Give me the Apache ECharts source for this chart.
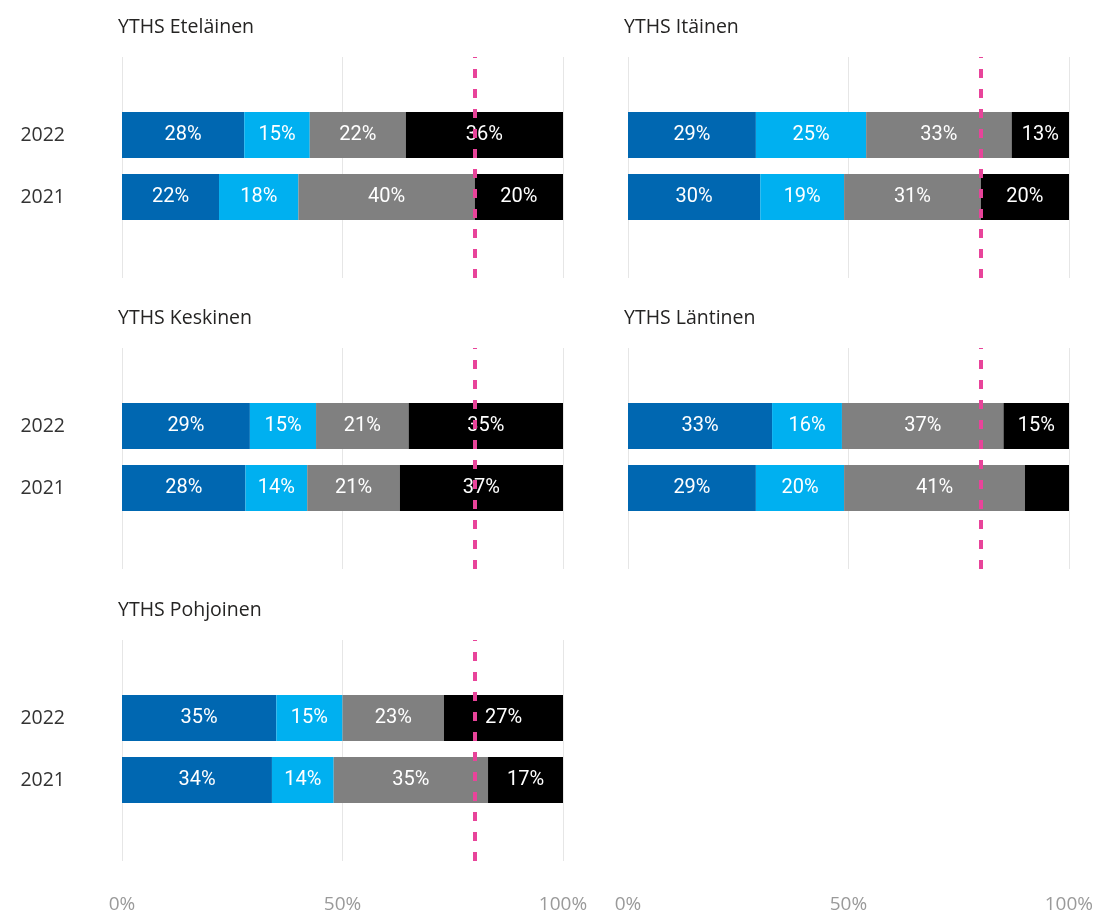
<!DOCTYPE html>
<html>
<head>
<meta charset="utf-8">
<script src="https://cdn.jsdelivr.net/npm/echarts@6/dist/echarts.min.js"></script>
<style>
  html, body { margin: 0; padding: 0; background: #fff; }
  #chart { width: 1096px; height: 915px; }
</style>
</head>
<body>
<div id="chart"></div>
<script>
// categories (bottom to top on the y axis)
const years = ['2021', '2022']
const regions = ['YTHS Eteläinen', 'YTHS Itäinen', 'YTHS Keskinen', 'YTHS Läntinen', 'YTHS Pohjoinen']

// label values per region, [2021, 2022]
const darkBlue = [[22, 28], [30, 29], [28, 29], [29, 33], [34, 35]]
const lightBlue = [[18, 15], [19, 25], [14, 15], [20, 16], [14, 15]]
const grey = [[40, 22], [31, 33], [21, 21], [41, 37], [35, 23]]
const black = [[20, 36], [20, 13], [37, 35], [10, 15], [17, 27]]

const targetLine = 80
const xTicks = [0, 50, 100]

const colors = ['#0067B1', '#00B0F0', '#808080', '#000000']
const groups = [darkBlue, lightBlue, grey, black]
const minLabel = 12 // power bi drops labels that don't fit

// layout
const colLeft = [122, 628]
const gridW = 441
const rowTop = [57, 348, 640]
const outerH = 221
const innerOff = 47
const innerH = 124
const cells = [[0, 0], [1, 0], [0, 1], [1, 1], [0, 2]]

const chart = echarts.init(document.getElementById('chart'))

const grid = [], xAxis = [], yAxis = [], series = [], title = []

regions.forEach((name, i) => {
  const col = cells[i][0]
  const row = cells[i][1]
  const left = colLeft[col]
  const top = rowTop[row]
  const a = i * 2, b = i * 2 + 1

  title.push({
    text: name,
    left: left - 9,
    top: top - 45,
    textStyle: { fontFamily: 'Open Sans', fontSize: 19.5, fontWeight: 'normal', color: '#252423' }
  })

  // outer grid: gridlines + target line
  grid.push({ left: left, top: top, width: gridW, height: outerH })
  // inner grid: bars
  grid.push({ left: left, top: top + innerOff, width: gridW, height: innerH })

  const isBottom = (col === 0 && row === 2) || (col === 1 && row === 1)
  xAxis.push({
    type: 'value', gridIndex: a, min: 0, max: 100, interval: 50,
    offset: (col === 1 && row === 1) ? (rowTop[2] - rowTop[1]) : 0,
    axisLine: { show: false }, axisTick: { show: false },
    splitLine: { show: true, lineStyle: { color: '#e6e6e6', width: 1 } },
    axisLabel: {
      show: isBottom, margin: 34, formatter: v => xTicks.includes(v) ? v + '%' : '',
      fontFamily: 'Open Sans', fontSize: 19, color: '#9a9a9a'
    }
  })
  xAxis.push({ type: 'value', gridIndex: b, min: 0, max: 100, show: false })

  yAxis.push({ type: 'value', gridIndex: a, min: 0, max: 1, show: false })
  yAxis.push({
    type: 'category', gridIndex: b, data: years,
    axisLine: { show: false }, axisTick: { show: false }, splitLine: { show: false },
    axisLabel: {
      show: col === 0, margin: 57,
      fontFamily: 'Open Sans', fontSize: 19.5, color: '#333'
    }
  })

  // target marker
  series.push({
    type: 'line', xAxisIndex: a, yAxisIndex: a, data: [], z: 5, silent: true,
    markLine: {
      symbol: 'none', silent: true, animation: false,
      label: { show: false },
      lineStyle: { color: '#E8449A', type: [9, 11], width: 4 },
      data: [{ xAxis: targetLine }]
    }
  })

  // 100% stacked bars
  const totals = years.map((_, k) => groups.reduce((s, g) => s + g[i][k], 0))
  groups.forEach((g, s) => {
    series.push({
      type: 'bar', xAxisIndex: b, yAxisIndex: b, stack: 'p' + i,
      barWidth: 46, z: 2,
      itemStyle: { color: colors[s] },
      label: {
        show: true, position: 'inside',
        fontFamily: 'Roboto', fontSize: 20, fontWeight: 'normal', color: '#fff',
        formatter: p => g[i][p.dataIndex] >= minLabel ? g[i][p.dataIndex] + '%' : ''
      },
      data: years.map((_, k) => g[i][k] / totals[k] * 100)
    })
  })
})

chart.setOption({
  animation: false,
  title: title,
  grid: grid,
  xAxis: xAxis,
  yAxis: yAxis,
  series: series
})
</script>
</body>
</html>
